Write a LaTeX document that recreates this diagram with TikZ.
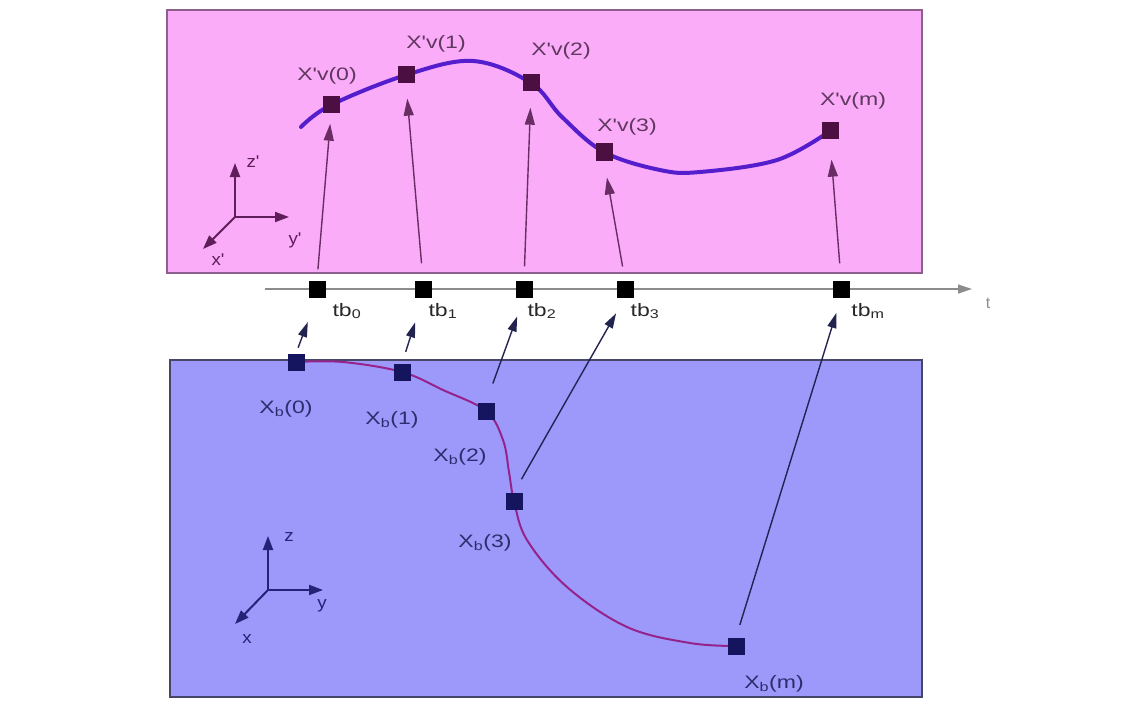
\documentclass[tikz,border=0pt]{standalone}
\usepackage{fontspec}
\setmainfont{Liberation Sans}
\usetikzlibrary{arrows.meta}
\definecolor{pinkfill}{RGB}{250,172,248}
\definecolor{pinkedge}{RGB}{140,95,140}
\definecolor{bluefill}{RGB}{156,153,250}
\definecolor{blueedge}{RGB}{70,70,105}
\definecolor{ucurvecol}{RGB}{85,30,205}
\definecolor{usqcol}{RGB}{75,15,65}
\definecolor{ulabcol}{RGB}{95,55,95}
\definecolor{uarrcol}{RGB}{105,45,100}
\definecolor{uaxcol}{RGB}{95,30,90}
\definecolor{lcurvecol}{RGB}{150,35,140}
\definecolor{lsqcol}{RGB}{20,20,95}
\definecolor{llabcol}{RGB}{45,45,110}
\definecolor{larrcol}{RGB}{35,35,80}
\definecolor{laxcol}{RGB}{35,35,120}
\definecolor{tlabcol}{RGB}{40,40,40}
\definecolor{timecol}{RGB}{140,140,140}
\newcommand{\wlbl}[1]{\scalebox{1.28}[1]{#1}}
\newcommand{\alb}[1]{\scalebox{1.1}[1]{#1}}
\newcommand{\qs}{\textquotesingle}
\begin{document}
\begin{tikzpicture}[x=1pt,y=-1pt,
  usq/.style={fill=usqcol,minimum size=17pt,inner sep=0pt},
  tsq/.style={fill=black,minimum size=17pt,inner sep=0pt},
  lsq/.style={fill=lsqcol,minimum size=17pt,inner sep=0pt},
  ulab/.style={text=ulabcol,inner sep=0pt,font=\fontsize{18}{20}\selectfont},
  tlab/.style={text=tlabcol,inner sep=0pt,font=\fontsize{18}{20}\selectfont},
  llab/.style={text=llabcol,inner sep=0pt,font=\fontsize{18}{20}\selectfont},
  uaxlab/.style={text=uaxcol,inner sep=0pt,font=\fontsize{17}{19}\selectfont},
  laxlab/.style={text=laxcol,inner sep=0pt,font=\fontsize{17}{19}\selectfont},
  uarrow/.style={draw=uarrcol,line width=1.4pt,-{Triangle[length=17pt,width=10pt]}},
  larrow/.style={draw=larrcol,line width=1.4pt,-{Triangle[length=15pt,width=9pt]}},
  uaxis/.style={draw=uaxcol,line width=2pt,-{Triangle[length=14pt,width=10pt]}},
  laxis/.style={draw=laxcol,line width=2pt,-{Triangle[length=14pt,width=10pt]}},
  ucurve/.style={draw=ucurvecol,line width=4pt,line cap=round},
  lcurve/.style={draw=lcurvecol,line width=2pt},
  timeline/.style={draw=timecol,line width=1.2pt,-{Triangle[length=14pt,width=9pt]}}
]
\useasboundingbox (0,0) rectangle (1148,706);
% panels
\node[draw=pinkedge,fill=pinkfill,line width=1.5pt,minimum width=755pt,minimum height=263pt,inner sep=0pt] (toppanel) at (544.5,141.5) {};
\node[draw=blueedge,fill=bluefill,line width=1.5pt,minimum width=752pt,minimum height=337pt,inner sep=0pt] (botpanel) at (546,528.5) {};
% coordinates of points
\coordinate (pu0) at (331,105);
\coordinate (pu1) at (406,75);
\coordinate (pu2) at (531,83);
\coordinate (pu3) at (604,152);
\coordinate (pum) at (830,131);
\coordinate (pl0) at (296,362);
\coordinate (pl1) at (402,372);
\coordinate (pl2) at (486,411);
\coordinate (pl3) at (514,501);
\coordinate (plm) at (736,646);
% upper curve
\draw[ucurve] plot[smooth,tension=0.6] coordinates {(301,127) (pu0) (pu1) (473,61) (pu2) (562,117) (pu3) (660,170) (700,172) (777,160) (pum)};
% lower curve
\draw[lcurve] plot[smooth,tension=0.6] coordinates {(pl0) (343,362) (pl1) (443,390) (pl2) (503,440) (509,472) (pl3) (527,540) (567,587) (627,627) (690,643) (plm)};
% time axis
\coordinate (tstart) at (265,289);
\coordinate (tend) at (972,289);
\draw[timeline] (tstart) -- (tend);
\node[text=timecol,inner sep=0pt,font=\fontsize{16}{18}\selectfont] (tlabel) at (988,303) {t};
% squares
\node[usq] (u0) at (pu0) {};
\node[usq] (u1) at (pu1) {};
\node[usq] (u2) at (pu2) {};
\node[usq] (u3) at (pu3) {};
\node[usq] (um) at (pum) {};
\node[tsq] (t0) at (317,289) {};
\node[tsq] (t1) at (423,289) {};
\node[tsq] (t2) at (524,289) {};
\node[tsq] (t3) at (625,289) {};
\node[tsq] (tm) at (841,289) {};
\node[lsq] (l0) at (pl0) {};
\node[lsq] (l1) at (pl1) {};
\node[lsq] (l2) at (pl2) {};
\node[lsq] (l3) at (pl3) {};
\node[lsq] (lm) at (plm) {};
% labels upper
\node[ulab] (ul0) at (327,76) {\wlbl{X\qs v(0)}};
\node[ulab] (ul1) at (436,44) {\wlbl{X\qs v(1)}};
\node[ulab] (ul2) at (561,51) {\wlbl{X\qs v(2)}};
\node[ulab] (ul3) at (627,127) {\wlbl{X\qs v(3)}};
\node[ulab] (ulm) at (853,101) {\wlbl{X\qs v(m)}};
% labels time
\node[tlab] (tl0) at (347,311) {\wlbl{tb\textsubscript{0}}};
\node[tlab] (tl1) at (443,311) {\wlbl{tb\textsubscript{1}}};
\node[tlab] (tl2) at (542,311) {\wlbl{tb\textsubscript{2}}};
\node[tlab] (tl3) at (645,311) {\wlbl{tb\textsubscript{3}}};
\node[tlab] (tlm) at (868,311) {\wlbl{tb\textsubscript{m}}};
% labels lower
\node[llab] (ll0) at (286,409) {\wlbl{X\textsubscript{b}(0)}};
\node[llab] (ll1) at (392,420) {\wlbl{X\textsubscript{b}(1)}};
\node[llab] (ll2) at (460,457) {\wlbl{X\textsubscript{b}(2)}};
\node[llab] (ll3) at (485,543) {\wlbl{X\textsubscript{b}(3)}};
\node[llab] (llm) at (774,684) {\wlbl{X\textsubscript{b}(m)}};
% upward arrows into top panel
\draw[uarrow,shorten <=11pt,shorten >=10pt] (t0.north) -- (u0.south);
\draw[uarrow,shorten <=17pt,shorten >=15pt] (t1.north) -- (u1.south);
\draw[uarrow,shorten <=14pt,shorten >=16pt] (t2.north) -- (u2.south);
\draw[uarrow,shorten <=14pt,shorten >=17pt] (t3.north) -- (u3.south);
\draw[uarrow,shorten <=17pt,shorten >=20pt] (tm.north) -- (um.south);
% arrows from lower points to time
\draw[larrow,shorten <=6pt,shorten >=26pt] (l0.north) -- (t0.south);
\draw[larrow,shorten <=12pt,shorten >=26pt] (l1.north) -- (t1.south);
\draw[larrow,shorten <=20pt,shorten >=20pt] (l2.north) -- (t2.south);
\draw[larrow,shorten <=15pt,shorten >=18pt] (l3.north) -- (t3.south);
\draw[larrow,shorten <=13pt,shorten >=16pt] (lm.north) -- (tm.south);
% upper axes
\coordinate (uo) at (235,217);
\coordinate (uz) at (235,163);
\coordinate (uy) at (289,217);
\coordinate (ux) at (203,249);
\draw[uaxis] (uo) -- (uz);
\draw[uaxis] (uo) -- (uy);
\draw[uaxis] (uo) -- (ux);
\node[uaxlab] (uzl) at (253,162) {\alb{z\qs}};
\node[uaxlab] (uyl) at (295,240) {\alb{y\qs}};
\node[uaxlab] (uxl) at (218,260) {\alb{x\qs}};
% lower axes
\coordinate (lo) at (268,590);
\coordinate (lz) at (268,536);
\coordinate (ly) at (323,590);
\coordinate (lx) at (235,624);
\draw[laxis] (lo) -- (lz);
\draw[laxis] (lo) -- (ly);
\draw[laxis] (lo) -- (lx);
\node[laxlab] (lzl) at (289,537) {\alb{z}};
\node[laxlab] (lyl) at (322,606) {\alb{y}};
\node[laxlab] (lxl) at (247,639) {\alb{x}};
\end{tikzpicture}
\end{document}
